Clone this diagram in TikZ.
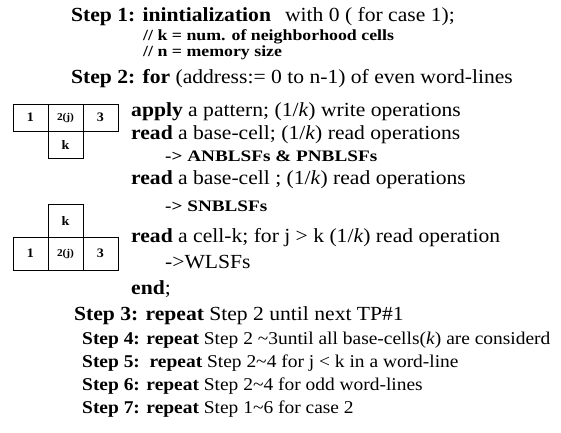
\documentclass[tikz,border=0pt]{standalone}
\usepackage{fontspec}
\setmainfont[FakeStretch=1.08]{Liberation Serif}
\newfontfamily\notefont[FakeStretch=1.15]{Liberation Serif}
\newfontfamily\arrowfont[FakeStretch=1.2]{Liberation Serif}
\begin{document}
\begin{tikzpicture}[x=1pt,y=-1pt,
  main/.style={anchor=base west, inner sep=0pt, font=\fontsize{20}{20}\selectfont},
  small/.style={anchor=base west, inner sep=0pt, font=\fontsize{18}{18}\selectfont},
  note/.style={anchor=base west, inner sep=0pt, font=\notefont\fontsize{15.5}{15.5}\selectfont\bfseries},
  arrownote/.style={anchor=base west, inner sep=0pt, font=\arrowfont\fontsize{16}{16}\selectfont\bfseries},
  cell/.style={draw, line width=0.7pt, minimum width=35pt, inner sep=0pt, font=\fontsize{13}{13}\selectfont\bfseries},
  cellA/.style={cell, minimum height=27pt},
  cellB/.style={cell, minimum height=33pt},
  cellnum/.style={font=\fontsize{10.5}{10.5}\selectfont\bfseries}]
\useasboundingbox (0,0) rectangle (561,432);
% text
\node[main] (s1) at (71,21) {\textbf{Step 1: inintialization}\hspace{14pt}with 0 ( for case 1);};
\node[note] (c1) at (143,40) {// k = num. of neighborhood cells};
\node[note] (c2) at (143,56) {// n = memory size};
\node[main] (s2) at (71,83) {\textbf{Step 2: for} (address:= 0 to n-1) of even word-lines};
\node[main] (l1) at (131,116) {\textbf{apply} a pattern; (1/\textit{k}) write operations};
\node[main] (l2) at (131,139) {\textbf{read} a base-cell; (1/\textit{k}) read operations};
\node[arrownote] (l3) at (165,161) {-> ANBLSFs \& PNBLSFs};
\node[main] (l4) at (131,184) {\textbf{read} a base-cell ; (1/\textit{k}) read operations};
\node[arrownote] (l5) at (165,211) {-> SNBLSFs};
\node[main] (l6) at (131,242) {\textbf{read} a cell-k; for j > k (1/\textit{k}) read operation};
\node[main] (l7) at (165,268) {->WLSFs};
\node[main] (l8) at (131,294) {\textbf{end};};
\node[main] (s3) at (74,320) {\textbf{Step 3: repeat} Step 2 until next TP\#1};
\node[small] (s4) at (82,344) {\textbf{Step 4: repeat} Step 2 \textasciitilde3until all base-cells(\textit{k}) are considerd};
\node[small] (s5) at (82,367) {\textbf{Step 5:\ \ repeat} Step 2\textasciitilde4 for j < k in a word-line};
\node[small] (s6) at (82,390) {\textbf{Step 6: repeat} Step 2\textasciitilde4 for odd word-lines};
\node[small] (s7) at (82,413) {\textbf{Step 7: repeat} Step 1\textasciitilde6 for case 2};
% upper T
\node[cellA] (u1) at (30.5,117.5) {1};
\node[cellA, cellnum] (u2) at (65.5,117.5) {2(j)};
\node[cellA] (u3) at (100.5,117.5) {3};
\node[cellA] (uk) at (65.5,144.5) {k};
% lower T
\node[cellB] (dk) at (65.5,220.5) {k};
\node[cellB] (d1) at (30.5,253.5) {1};
\node[cellB, cellnum] (d2) at (65.5,253.5) {2(j)};
\node[cellB] (d3) at (100.5,253.5) {3};
\end{tikzpicture}
\end{document}
